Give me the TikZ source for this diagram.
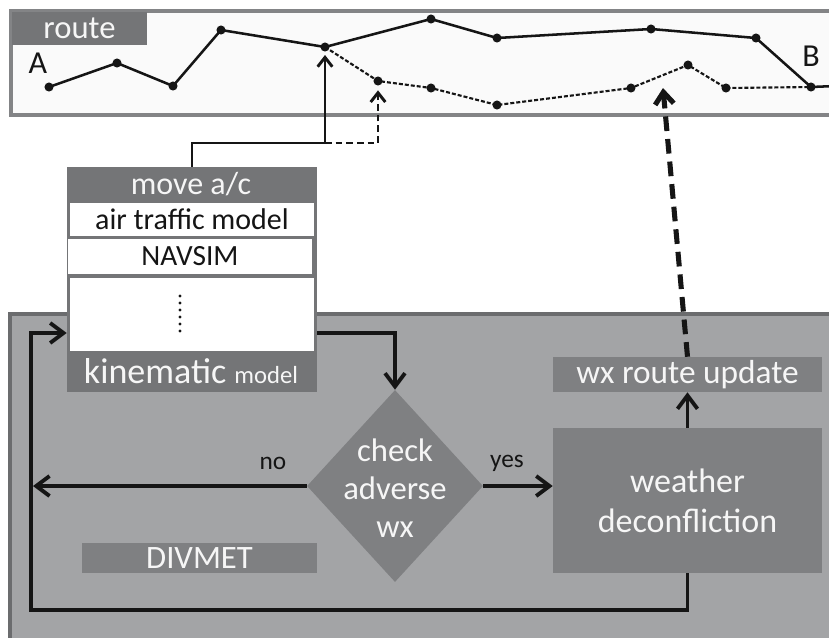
\documentclass[tikz,border=0pt]{standalone}
\usepackage{fontspec}
\setmainfont{Carlito}
\usetikzlibrary{shapes.geometric,arrows.meta,calc}
\definecolor{panelfill}{HTML}{A3A4A6}
\definecolor{panelline}{HTML}{6B6C6E}
\definecolor{routeline}{HTML}{838486}
\definecolor{routefill}{HTML}{FAFAFA}
\definecolor{boxgray}{HTML}{7F8082}
\definecolor{darkgray}{HTML}{747577}
\definecolor{txtwhite}{HTML}{F6F6F6}
\definecolor{ink}{HTML}{151515}
\begin{document}
\begin{tikzpicture}[x=0.75pt,y=-0.75pt,
  gbox/.style={fill=boxgray, draw=none, text=txtwhite, inner sep=0pt, align=center},
  wrow/.style={fill=white, draw=none, text=ink, inner sep=0pt},
  conn/.style={line width=2.9pt, ink},
  tipb/.style={-{Straight Barb[length=10pt,width=15pt]}},
  rdot/.style={circle, fill=ink, inner sep=0pt, minimum size=6.8pt},
  lbl/.style={text=ink, inner sep=0pt}]
\useasboundingbox (0,0) rectangle (829,637);
\fill[white] (0,0) rectangle (829,637);

% route panel
\draw[line width=3pt, draw=routeline, fill=routefill] (11,11) rectangle (840,115);
\node[gbox, fill=darkgray, minimum width=101.25pt, minimum height=24.75pt,
  font=\fontsize{24.5}{28}\selectfont] (routelbl) at (79.5,28.5) {route};
\node[lbl, font=\fontsize{24}{28}\selectfont] (A) at (38,63) {A};
\node[lbl, font=\fontsize{24}{28}\selectfont] (B) at (811,56) {B};

% route points
\coordinate (s1) at (49,87);
\coordinate (s2) at (117,63);
\coordinate (s3) at (173,86);
\coordinate (s4) at (221,30);
\coordinate (s5) at (325,47);
\coordinate (s6) at (431,19);
\coordinate (s7) at (497,38);
\coordinate (s8) at (651,29);
\coordinate (s9) at (756,38);
\coordinate (s10) at (811,87);
\coordinate (sE) at (835,86);
\coordinate (d1) at (378,81);
\coordinate (d2) at (431,88);
\coordinate (d3) at (497,105);
\coordinate (d4) at (631,88);
\coordinate (d5) at (688,65);
\coordinate (d6) at (726,88);
\draw[line width=1.9pt, ink] (s1)--(s2)--(s3)--(s4)--(s5)--(s6)--(s7)--(s8)--(s9)--(s10)--(sE);
\draw[line width=1.6pt, ink, dash pattern=on 3pt off 1.5pt] (s5)--(d1)--(d2)--(d3)--(d4)--(d5)--(d6)--(s10);
\foreach \p in {s1,s2,s3,s4,s5,s6,s7,s8,s9,s10,d1,d2,d3,d4,d5,d6}
  \node[rdot] at (\p) {};

% DIVMET panel
\draw[line width=2.5pt, draw=panelline, fill=panelfill] (10,314) rectangle (840,640);

% move a/c box
\node[fill=darkgray, draw=none, inner sep=0pt, minimum width=187.5pt, minimum height=168.75pt] (mac) at (192,279.5) {};
\node[text=txtwhite, inner sep=0pt, font=\fontsize{24}{28}\selectfont] (hdr) at (191,184) {move a/c};
\node[wrow, minimum width=183pt, minimum height=24.75pt, font=\fontsize{22.5}{26}\selectfont] (r1) at (192,219.5) {air traffic model};
\node[wrow, minimum width=183pt, minimum height=26.25pt, font=\fontsize{22}{26}\selectfont] (r2) at (190,256.5) {NAVSIM};
\node[wrow, minimum width=183pt, minimum height=54.75pt] (r3) at (192,314.5) {};
\draw[ink, line width=2.6pt, line cap=round, dash pattern=on 0pt off 5.25pt] (180,296) -- (180,333);
\node[text=txtwhite, inner sep=0pt] (kin) at (191,371) {\fontsize{27}{30}\selectfont kinematic \fontsize{18.5}{20}\selectfont model};

% decision and boxes
\node[diamond, fill=boxgray, draw=none, inner sep=0pt, minimum width=132pt, minimum height=144pt] (chk) at (395,486) {};
\node[text=txtwhite, align=center, inner sep=0pt, font=\fontsize{24.5}{28.5}\selectfont] (chkt) at (395,488) {check\\adverse\\wx};
\node[gbox, minimum width=201.75pt, minimum height=108.75pt, font=\fontsize{25.5}{30}\selectfont] (wdc) at (687.5,500.5) {weather\\deconfliction};
\node[gbox, minimum width=201.75pt, minimum height=26.25pt, font=\fontsize{25}{28}\selectfont] (wxu) at (687.5,374.5) {wx route update};
\node[gbox, minimum width=176.25pt, minimum height=22.5pt, font=\fontsize{24.5}{28}\selectfont] (div) at (199.5,558) {DIVMET};

% labels
\node[lbl, font=\fontsize{19}{22}\selectfont] (no) at (273,463) {no};
\node[lbl, font=\fontsize{19}{22}\selectfont] (yes) at (507,463) {yes};

% helper coordinates
\coordinate (top) at (192,143);
\coordinate (kout) at (317,333);
\coordinate (noend) at (33,486);
\coordinate (loopy) at (31,610);
\coordinate (bigtip) at (663,88);

% connectors to route
\draw[conn, line width=2.2pt, -{Straight Barb[length=7pt,width=11pt]}] (mac.north) -- (top) -- (s5 |- top) -- ([yshift=-6pt]s5);
\draw[conn, line width=2.2pt, dash pattern=on 5pt off 3pt, -{Straight Barb[length=7pt,width=11pt]}] (s5 |- top) -- (d1 |- top) -- ([yshift=-7pt]d1);
\draw[conn, line width=3.8pt, dash pattern=on 11pt off 6pt, -{Straight Barb[length=9pt,width=14pt]}] (wxu.north) -- (bigtip);

% flow connectors
\draw[conn, tipb] (kout) -- (chk.north |- kout) -- (chk.north);
\draw[conn, tipb] (chk.west) -- (noend);
\draw[conn, tipb] (chk.east) -- (wdc.west |- chk.east);
\draw[conn, tipb] (wdc.north) -- (wxu.south);
\draw[conn, tipb] (wdc.south) -- (wdc.south |- loopy) -- (loopy) -- (loopy |- kout) -- (mac.west |- kout);
\end{tikzpicture}
\end{document}
